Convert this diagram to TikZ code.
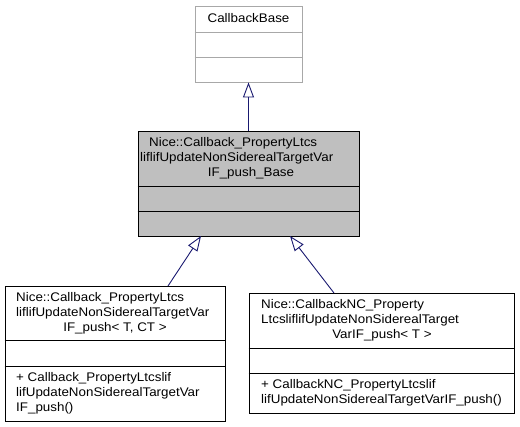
\documentclass[tikz,border=0pt]{standalone}
\usepackage{fontspec}
\setmainfont{Liberation Sans}[FakeStretch=1.07]
\usetikzlibrary{arrows.meta}
\definecolor{edgeblue}{HTML}{191970}
\definecolor{midfill}{HTML}{BFBFBF}
\definecolor{lightgray}{HTML}{A8A8A8}
\tikzset{
  cls/.style={draw=black, line width=0.9pt, fill=white, inner sep=0pt},
  graycls/.style={draw=lightgray, line width=0.9pt, fill=white, inner sep=0pt},
  basecls/.style={draw=black, line width=0.9pt, fill=midfill, inner sep=0pt},
  txt/.style={anchor=base west, inner sep=0pt, font=\fontsize{12.5}{15}\selectfont},
  ctxt/.style={anchor=base, inner sep=0pt, font=\fontsize{12.5}{15}\selectfont},
  inherit/.style={draw=edgeblue, line width=0.9pt, -{Triangle[open, length=15pt, width=11pt, fill=white]}},
}
\begin{document}
\begin{tikzpicture}[x=1pt, y=-1pt]
\useasboundingbox (0,0) rectangle (520,427);
% CallbackBase
\node[graycls, minimum width=107pt, minimum height=76pt] (base) at (248.5,44) {};
\draw[lightgray, line width=0.9pt] (base.west |- 0,32) -- (base.east |- 0,32);
\draw[lightgray, line width=0.9pt] (base.west |- 0,57) -- (base.east |- 0,57);
\node[ctxt] (basett) at (248.5,23) {CallbackBase};
% middle
\node[basecls, minimum width=221pt, minimum height=105pt] (mid) at (248.5,183.5) {};
\draw[line width=0.9pt] (mid.west |- 0,186) -- (mid.east |- 0,186);
\draw[line width=0.9pt] (mid.west |- 0,211) -- (mid.east |- 0,211);
\node[txt] (m1) at (149,147) {Nice::Callback\_PropertyLtcs};
\node[txt] (m2) at (140,162) {liflifUpdateNonSiderealTargetVar};
\node[ctxt] (m3) at (251,177) {IF\_push\_Base};
% bottom left
\node[cls, minimum width=220pt, minimum height=135pt] (left) at (115,353.5) {};
\draw[line width=0.9pt] (left.west |- 0,340) -- (left.east |- 0,340);
\draw[line width=0.9pt] (left.west |- 0,366) -- (left.east |- 0,366);
\node[txt] (l1) at (16,302) {Nice::Callback\_PropertyLtcs};
\node[txt] (l2) at (16,317) {liflifUpdateNonSiderealTargetVar};
\node[ctxt] (l3) at (115,332) {IF\_push< T, CT >};
\node[txt] (l4) at (16,382) {+ Callback\_PropertyLtcslif};
\node[txt] (l5) at (16,397) {lifUpdateNonSiderealTargetVar};
\node[txt] (l6) at (16,412) {IF\_push()};
% bottom right
\node[cls, minimum width=265pt, minimum height=120pt] (right) at (381.5,353) {};
\draw[line width=0.9pt] (right.west |- 0,348) -- (right.east |- 0,348);
\draw[line width=0.9pt] (right.west |- 0,373) -- (right.east |- 0,373);
\node[txt] (r1) at (261,309) {Nice::CallbackNC\_Property};
\node[txt] (r2) at (261,324) {LtcsliflifUpdateNonSiderealTarget};
\node[ctxt] (r3) at (382,339) {VarIF\_push< T >};
\node[txt] (r4) at (261,389) {+ CallbackNC\_PropertyLtcslif};
\node[txt] (r5) at (261,404) {lifUpdateNonSiderealTargetVarIF\_push()};
% inheritance
\coordinate (lt) at (168,286);
\coordinate (lh) at (201,236);
\coordinate (rt) at (334,293);
\coordinate (rh) at (290,236);
\draw[inherit] (mid.north) -- (base.south);
\draw[inherit] (lt) -- (lh);
\draw[inherit] (rt) -- (rh);
\end{tikzpicture}
\end{document}
